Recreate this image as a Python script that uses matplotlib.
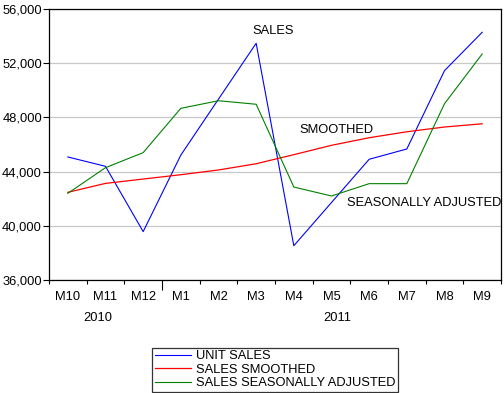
import matplotlib
matplotlib.use("Agg")
import matplotlib.pyplot as plt
import matplotlib.transforms as mtransforms
from matplotlib.ticker import FuncFormatter

# data
months = ["M10", "M11", "M12", "M1", "M2", "M3", "M4", "M5", "M6", "M7", "M8", "M9"]
years = ["2010", "2011"]
unit_sales = [45080, 44390, 39570, 45220, 49350, 53470, 38530, 41720, 44910, 45670, 51450, 54280]
sales_smoothed = [42470, 43130, 43450, 43770, 44120, 44580, 45250, 45940, 46500, 46940, 47290, 47530]
sales_adjusted = [42400, 44290, 45400, 48670, 49230, 48970, 42860, 42200, 43110, 43110, 49010, 52680]

plt.rcParams["font.family"] = ["Liberation Sans", "DejaVu Sans"]
FS = 9.3

fig = plt.figure(figsize=(5.04, 3.93), dpi=100)
ax = fig.add_axes([49 / 504, 1 - 280 / 393, 452 / 504, 271 / 393])

x = list(range(len(months)))
l1, = ax.plot(x, unit_sales, color="#0000ff", lw=0.8, label="UNIT SALES")
l2, = ax.plot(x, sales_smoothed, color="#ff0000", lw=0.9, label="SALES SMOOTHED")
l3, = ax.plot(x, sales_adjusted, color="#008000", lw=0.8, label="SALES SEASONALLY ADJUSTED")

ax.set_xlim(-0.5, len(months) - 0.5)
ax.set_ylim(36000, 56000)
ax.set_yticks([36000, 40000, 44000, 48000, 52000, 56000])
ax.yaxis.set_major_formatter(FuncFormatter(lambda v, p: f"{int(v):,}"))
ax.grid(axis="y", color="#c8c8c8", lw=0.9)
ax.set_axisbelow(True)
ax.tick_params(axis="y", direction="out", length=4, width=0.8, labelsize=FS, pad=1)

# tick marks at category boundaries, labels in the middle
ax.set_xticks([i - 0.5 for i in range(len(months) + 1)])
ax.set_xticklabels([])
ax.tick_params(axis="x", which="major", direction="out", length=3, width=0.8)
ax.set_xticks(x, minor=True)
ax.set_xticklabels(months, minor=True, fontsize=FS)
ax.tick_params(axis="x", which="minor", length=0, pad=8)
ax.get_xticklines()[6].set_markersize(7)

for s in ax.spines.values():
    s.set_linewidth(0.9)
    s.set_color("black")

trans = mtransforms.blended_transform_factory(ax.transData, ax.transAxes)
ax.text(0.8, -0.142, years[0], transform=trans, ha="center", va="center", fontsize=FS)
ax.text(7.15, -0.142, years[1], transform=trans, ha="center", va="center", fontsize=FS)

ax.text(4.89, 54350, "SALES", ha="left", va="center", fontsize=FS)
ax.text(6.15, 47100, "SMOOTHED", ha="left", va="center", fontsize=FS)
ax.text(7.4, 41650, "SEASONALLY ADJUSTED", ha="left", va="center", fontsize=FS, clip_on=True)

leg = fig.legend(handles=[l1, l2, l3], loc="lower left",
                 bbox_to_anchor=(152 / 504, 1 / 393, 247 / 504, 49 / 393),
                 fontsize=FS, frameon=True, fancybox=False, edgecolor="black",
                 handlelength=2.8, handletextpad=0.4, labelspacing=0.12,
                 borderpad=0.2, borderaxespad=0)
leg.get_frame().set_linewidth(0.9)

fig.savefig("out.png", dpi=100)
